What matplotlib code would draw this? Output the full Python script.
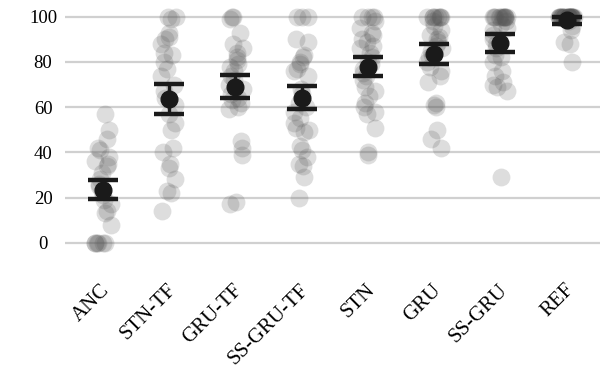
import matplotlib
matplotlib.use("Agg")
import matplotlib.pyplot as plt
import matplotlib.transforms as mtransforms
import numpy as np

plt.rcParams['font.family'] = ['Liberation Serif', 'DejaVu Serif']

conditions = ["ANC", "STN-TF", "GRU-TF", "SS-GRU-TF", "STN", "GRU", "SS-GRU", "REF"]

# per-participant scores for each condition
anc = [57, 50, 46, 42, 41, 38, 36, 35, 34, 31, 28, 26, 25, 23, 21, 19, 17, 14, 13, 8,
       0, 0, 0, 0, 0, 0]
stn_tf = [100, 100, 99, 93, 91, 90, 88, 84, 83, 80, 77, 74, 70, 67, 64, 61, 57, 53, 50,
          42, 40, 35, 33, 28, 23, 22, 14]
gru_tf = [100, 100, 99, 93, 88, 86, 84, 82, 81, 79, 78, 76, 74, 72, 70, 68, 66, 64, 63,
          62, 60, 59, 45, 42, 39, 18, 17]
ss_gru_tf = [100, 100, 100, 90, 89, 83, 82, 80, 79, 77, 76, 74, 68, 66, 62, 60, 58, 55,
             53, 51, 50, 49, 43, 41, 38, 35, 34, 29, 20]
stn = [100, 100, 100, 100, 98, 95, 93, 92, 90, 89, 87, 86, 84, 82, 80, 79, 77, 75, 74,
       72, 69, 67, 65, 62, 60, 58, 57, 51, 40, 39]
gru = [100, 100, 100, 100, 100, 100, 100, 100, 98, 96, 94, 92, 91, 90, 89, 87, 86, 85,
       83, 82, 80, 78, 76, 74, 71, 62, 61, 60, 50, 46, 42]
ss_gru = [100, 100, 100, 100, 100, 100, 100, 100, 100, 100, 100, 100, 98, 97, 95, 94,
          92, 90, 88, 86, 83, 82, 80, 76, 74, 71, 70, 69, 67, 29]
ref = [100] * 26 + [99, 98, 96, 94, 89, 88, 80]
scores = [anc, stn_tf, gru_tf, ss_gru_tf, stn, gru, ss_gru, ref]

# mean and 95% confidence interval per condition
means = [23.5, 63.7, 69.0, 64.2, 77.7, 83.7, 88.4, 98.6]
ci_low = [19.4, 57.1, 64.2, 59.0, 73.6, 79.1, 84.6, 97.0]
ci_high = [27.9, 70.2, 74.2, 69.5, 82.3, 87.8, 92.2, 99.7]

fig = plt.figure(figsize=(6.04, 3.67), dpi=100)
ax = fig.add_axes([0.107, 0.240, 0.886, 0.745])

rng = np.random.default_rng(7)
for i, vals in enumerate(scores):
    x = i + rng.uniform(-0.12, 0.12, len(vals))
    ax.scatter(x, vals, s=165, color='#555555', alpha=0.2, linewidths=0, zorder=2)

xs = np.arange(len(conditions))
means = np.array(means)
yerr = [means - np.array(ci_low), np.array(ci_high) - means]
ax.errorbar(xs, means, yerr=yerr, fmt='o', color='#1a1a1a', markersize=12,
            elinewidth=2.4, capsize=10.8, capthick=3.2, zorder=4)

ax.set_xlim(-0.575, 7.5)
ax.set_ylim(-16, 105)
ax.set_yticks([0, 20, 40, 60, 80, 100])
ax.yaxis.grid(True, color='#d0d0d0', linewidth=1.6, zorder=0)
ax.set_axisbelow(True)
for s in ax.spines.values():
    s.set_visible(False)
ax.tick_params(axis='both', length=0)
ax.tick_params(axis='y', labelsize=13.5, pad=15.5)
ax.tick_params(axis='x', labelsize=15, pad=6)
for lab in ax.get_yticklabels():
    lab.set_ha('center')
ax.set_xticks(xs)
ax.set_xticklabels(conditions, rotation=45, ha='right', va='center',
                   rotation_mode='anchor')
# nudge the slanted labels a little to the right
shift = mtransforms.ScaledTranslation(3 / 72, 0, fig.dpi_scale_trans)
for lab in ax.get_xticklabels():
    lab.set_transform(lab.get_transform() + shift)

fig.savefig("out.png", dpi=100)
